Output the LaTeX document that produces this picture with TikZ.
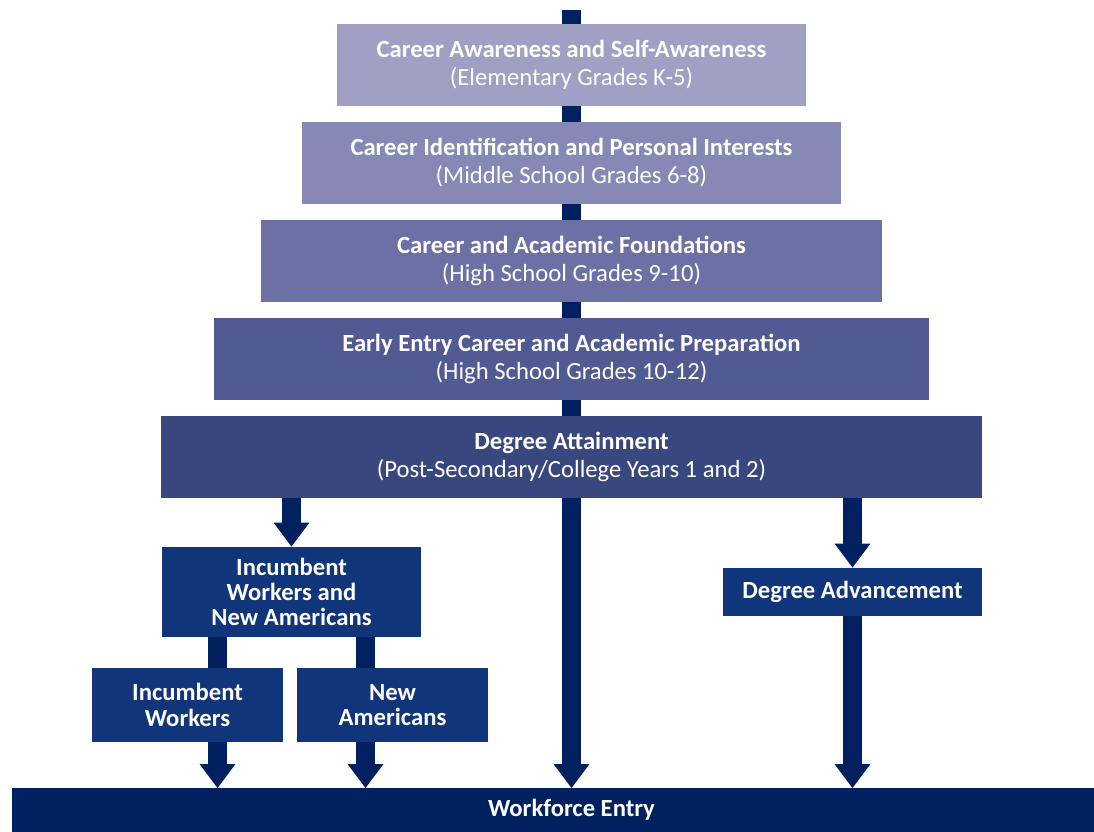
\documentclass[tikz,border=0pt]{standalone}
\usepackage{fontspec}
\setmainfont{Carlito}
\usepackage{xcolor}
\usetikzlibrary{arrows.meta,positioning}

\definecolor{stageA}{HTML}{9FA0C4}
\definecolor{stageB}{HTML}{8688B5}
\definecolor{stageC}{HTML}{6C70A4}
\definecolor{stageD}{HTML}{525A94}
\definecolor{stageE}{HTML}{39477F}
\definecolor{branchblue}{HTML}{11357A}
\definecolor{navy}{HTML}{002060}

\begin{document}
\begin{tikzpicture}[
  x=0.75pt, y=-0.75pt,
  stage/.style={rectangle, align=center, text=white, inner sep=0pt, minimum height=61.5pt, font=\fontsize{18.5}{21}\selectfont},
  branch/.style={rectangle, fill=branchblue, align=center, text=white, inner sep=0pt, font=\bfseries\fontsize{18.5}{19}\selectfont},
  arrow/.style={navy, line width=14.25pt, -{Triangle[width=25.5pt, length=18pt]}},
  bar/.style={navy, line width=14.25pt}
]
\useasboundingbox (0,0) rectangle (1094,831);

% workforce entry band
\fill[navy] (12,788) rectangle (1094,840);
\node[branch, fill=none, minimum height=32.25pt] (entry) at (571.5,810) {Workforce Entry};

% central pathway behind the stages
\coordinate (top) at (571.5,10);
\draw[arrow] (top) -- (top |- entry.north);

% stages
\node[stage, fill=stageA, minimum width=351.75pt] (elem) at (571.5,65) {\textbf{Career Awareness and Self-Awareness}\\(Elementary Grades K-5)};
\node[stage, fill=stageB, minimum width=404.25pt] (middle) at (571.5,163) {\textbf{Career Identification and Personal Interests}\\(Middle School Grades 6-8)};
\node[stage, fill=stageC, minimum width=465.75pt] (found) at (571.5,261) {\textbf{Career and Academic Foundations}\\(High School Grades 9-10)};
\node[stage, fill=stageD, minimum width=536.25pt] (early) at (571.5,359) {\textbf{Early Entry Career and Academic Preparation}\\(High School Grades 10-12)};
\node[stage, fill=stageE, minimum width=615.75pt] (degree) at (571.5,457) {\textbf{Degree Attainment}\\(Post-Secondary/College Years 1 and 2)};

% branches
\node[branch, minimum width=194.25pt, minimum height=67.5pt] (both) at (291.5,592) {Incumbent\\Workers and\\New Americans};
\node[branch, minimum width=143.25pt, minimum height=55.5pt] (workers) at (187.5,705) {Incumbent\\Workers};
\node[branch, minimum width=143.25pt, minimum height=55.5pt] (americans) at (392.5,705) {New\\Americans};
\node[branch, minimum width=194.25pt, minimum height=36pt] (advance) at (852.5,592) {Degree Advancement};

\coordinate[xshift=-55.5pt] (bothL) at (both.south);
\coordinate[xshift=55.5pt] (bothR) at (both.south);

\draw[arrow] (degree.south -| both) -- (both.north);
\draw[bar] (bothL) -- (bothL |- workers.north);
\draw[bar] (bothR) -- (bothR |- americans.north);
\draw[arrow] (bothL |- workers.south) -- (bothL |- entry.north);
\draw[arrow] (bothR |- americans.south) -- (bothR |- entry.north);
\draw[arrow] (degree.south -| advance) -- (advance.north);
\draw[arrow] (advance.south) -- (advance.south |- entry.north);
\end{tikzpicture}
\end{document}
